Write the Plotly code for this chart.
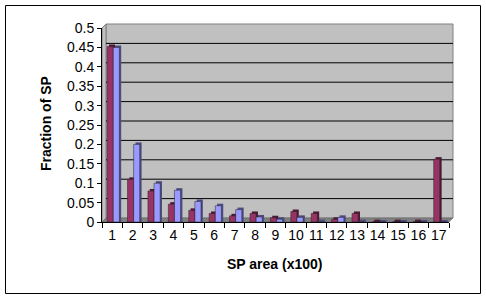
import plotly.graph_objects as go

categories = [str(i) for i in range(1, 18)]
series_a = [0.452, 0.11, 0.08, 0.046, 0.03, 0.022, 0.016, 0.022, 0.011, 0.027,
            0.022, 0.007, 0.022, 0.001, 0.001, 0.001, 0.162]
series_b = [0.45, 0.2, 0.1, 0.082, 0.053, 0.042, 0.032, 0.013, 0.007, 0.012,
            0.001, 0.012, 0.001, 0.0, 0.0, 0.0, 0.0]
y_ticks = [0, 0.05, 0.1, 0.15, 0.2, 0.25, 0.3, 0.35, 0.4, 0.45, 0.5]
y_labels = ["0", "0.05", "0.1", "0.15", "0.2", "0.25", "0.3", "0.35", "0.4", "0.45", "0.5"]

W, H = 486, 298
L, R, T, B = 102, 37, 28, 76
PW, PH = W - L - R, H - T - B
DX, DY = 4, 4  # 3D depth in px


def px(x):
    return (x - L) / PW


def py(y):
    return (H - B - y) / PH


font = dict(family="Liberation Sans, Arial, sans-serif", size=14, color="black")
depth = DY / (PH / 0.5)  # depth in data units

fig = go.Figure()
# 3D side/top faces (shadows)
for vals, col, off in [(series_a, "#4C1A33", -0.25), (series_b, "#4C4C80", 0.05)]:
    fig.add_trace(go.Bar(x=categories, y=[v + depth * 0.5 for v in vals], offset=off + 0.09, width=0.3,
                         marker=dict(color=col, line=dict(width=0))))
for vals, col, off in [(series_a, "#993366", -0.25), (series_b, "#9999FF", 0.05)]:
    fig.add_trace(go.Bar(x=categories, y=vals, offset=off, width=0.3,
                         marker=dict(color=col, line=dict(color="#222222", width=0.5))))

shapes = [
    # outer border
    dict(type="rect", xref="paper", yref="paper", x0=px(5.5), x1=px(480.5), y0=py(293.5), y1=py(5.5),
         line=dict(color="black", width=1), fillcolor="rgba(0,0,0,0)", layer="below"),
    # back wall
    dict(type="rect", xref="paper", yref="paper", x0=px(L + DX), x1=px(W - R + DX), y0=py(H - B - DY), y1=py(T - DY),
         line=dict(color="#808080", width=1), fillcolor="#C0C0C0", layer="below"),
    # left wall
    dict(type="path", xref="paper", yref="paper",
         path=f"M {px(L)} {py(H - B)} L {px(L)} {py(T)} L {px(L + DX)} {py(T - DY)} L {px(L + DX)} {py(H - B - DY)} Z",
         line=dict(color="#808080", width=1), fillcolor="#C0C0C0", layer="below"),
    # floor
    dict(type="path", xref="paper", yref="paper",
         path=f"M {px(L)} {py(H - B)} L {px(W - R)} {py(H - B)} L {px(W - R + DX)} {py(H - B - DY)} L {px(L + DX)} {py(H - B - DY)} Z",
         line=dict(color="#606060", width=0.5), fillcolor="#808080", layer="below"),
]
for t in y_ticks[1:-1]:
    shapes.append(dict(type="line", xref="paper", yref="y", x0=px(L + DX), x1=px(W - R + DX),
                       y0=t + depth, y1=t + depth, line=dict(color="black", width=1), layer="below"))

fig.update_layout(
    width=W, height=H,
    margin=dict(l=L, r=R, t=T, b=B),
    paper_bgcolor="white", plot_bgcolor="rgba(0,0,0,0)",
    showlegend=False, barmode="overlay",
    font=font,
    shapes=shapes,
    annotations=[
        dict(text="<b>Fraction of SP</b>", xref="paper", yref="paper", x=px(46), y=py(124),
             textangle=-90, showarrow=False, font=font, xanchor="center", yanchor="middle"),
        dict(text="<b>SP area (x100)</b>", xref="paper", yref="paper", x=px(274), y=py(264),
             showarrow=False, font=font, xanchor="center", yanchor="middle"),
    ],
)
fig.update_xaxes(
    type="category", tickson="boundaries", ticks="outside", ticklen=5, tickcolor="black",
    showline=True, linecolor="black", linewidth=1, showgrid=False, tickangle=0,
    tickfont=font, range=[-0.5, 16.5],
)
fig.update_yaxes(
    range=[0, 0.5], tickvals=y_ticks, ticktext=y_labels, ticks="outside", ticklen=4, tickcolor="black",
    showline=True, linecolor="black", linewidth=1, showgrid=False,
    zeroline=False, tickfont=font,
)
fig.write_html("out.html")
